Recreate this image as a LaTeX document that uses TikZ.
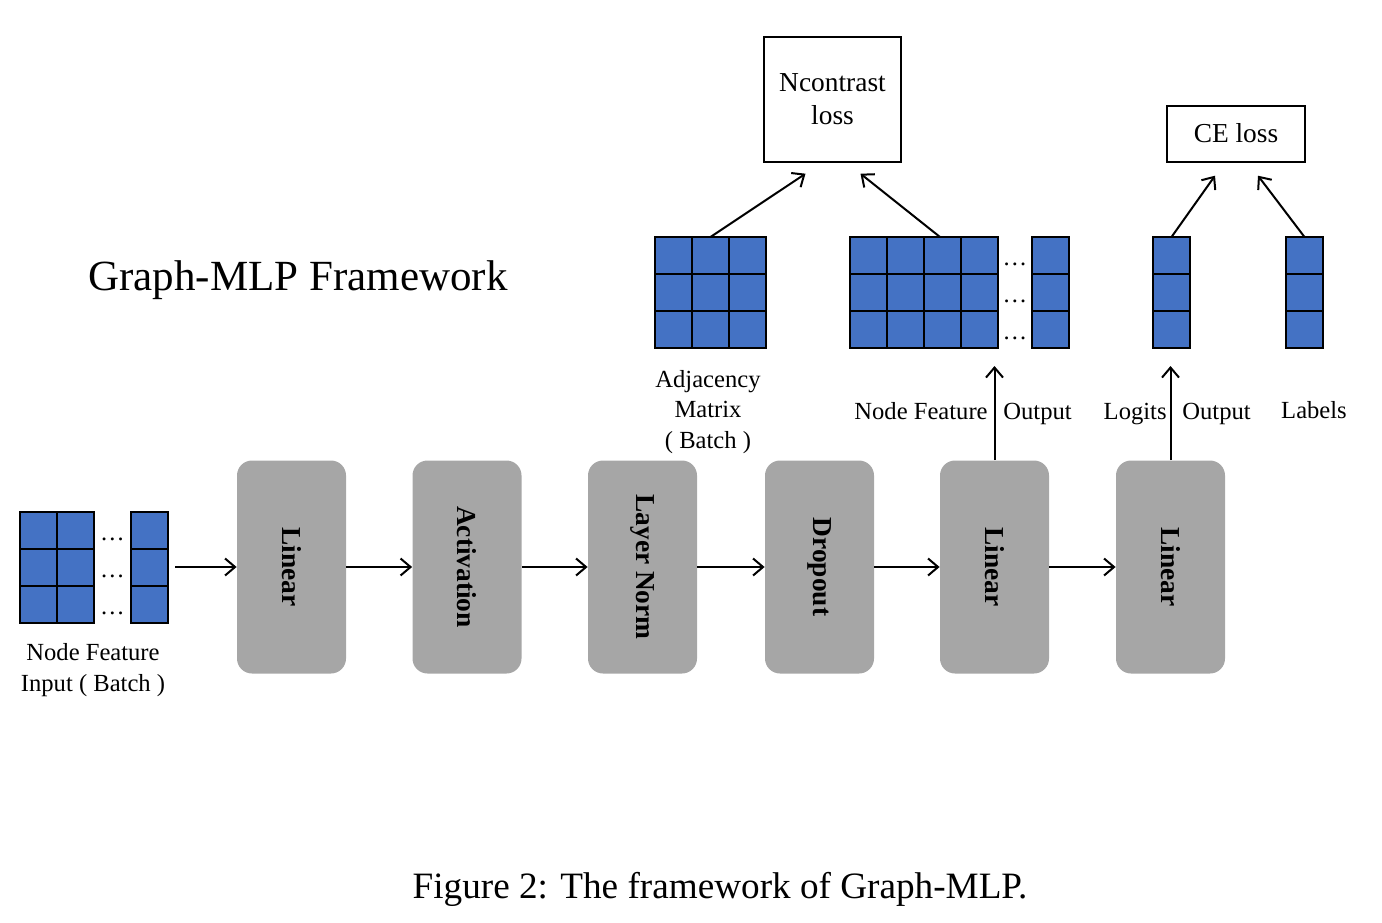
\documentclass[tikz,border=0pt]{standalone}
\usepackage{fontspec}
\setmainfont{Liberation Serif}
\usepackage{graphicx}
\usetikzlibrary{arrows.meta,calc,positioning}
\definecolor{cellblue}{HTML}{4472C4}
\definecolor{blockgray}{HTML}{A6A6A6}
\newcommand{\cs}{37}
\newcommand{\blocky}{567}
\newcommand{\vtext}[1]{\rotatebox{-90}{#1}}
% name, left, top, cols, rows
\newcommand{\matgrid}[5]{%
\node[mat, minimum width=#4*18.5pt, minimum height=#5*18.5pt, anchor=north west] (#1) at (#2,#3) {};
\foreach \i in {0,...,#4} \draw[gridline] ($(#1.north west)+(\i*\cs,0)$) -- ($(#1.south west)+(\i*\cs,0)$);
\foreach \j in {0,...,#5} \draw[gridline] ($(#1.north west)+(0,\j*\cs)$) -- ($(#1.north east)+(0,\j*\cs)$);
}

\begin{document}
\begin{tikzpicture}[x=0.5pt,y=-0.5pt,
  mat/.style={fill=cellblue, draw=black, line width=0.9pt, inner sep=0pt, outer sep=0pt},
  gridline/.style={draw=black, line width=0.9pt},
  block/.style={fill=blockgray, rounded corners=7.5pt, minimum width=54.5pt, minimum height=106.5pt, inner sep=0pt,
    font=\fontsize{13.7}{16}\selectfont\bfseries},
  lossbox/.style={draw=black, line width=0.7pt, align=center, inner sep=0pt,
    font=\fontsize{13.7}{16.5}\selectfont},
  lbl/.style={font=\fontsize{12.3}{15.3}\selectfont, inner sep=0pt, align=center},
  dots/.style={font=\fontsize{12.3}{15}\selectfont, inner sep=0pt, anchor=base},
  flow/.style={-{Straight Barb[length=5pt,width=8.5pt]}, line width=1pt}]
\useasboundingbox (0,0) rectangle (1382,922);

% title and caption
\node[font=\fontsize{21.5}{24}\selectfont, inner sep=0pt] (title) at (298,280) {Graph-MLP Framework};
\node[font=\fontsize{18.6}{22}\selectfont, inner sep=0pt] (caption) at (720,889) {Figure 2: The framework of Graph-MLP.};

% input batch
\matgrid{inmat}{20}{512}{2}{3}
\matgrid{inlast}{131}{512}{1}{3}
\foreach \r in {1,2,3} \node[dots] (indots\r) at (112.5,512+\r*36.7-8) {\dots};
\node[lbl] (inlbl) at (93,670) {Node Feature\\Input ( Batch )};

% layers
\node[block] (lin1) at (291.5,\blocky) {\vtext{Linear}};
\node[block] (act) at (467,\blocky) {\vtext{Activation}};
\node[block] (norm) at (642.5,\blocky) {\vtext{Layer Norm}};
\node[block] (drop) at (819.5,\blocky) {\vtext{Dropout}};
\node[block] (lin2) at (994.5,\blocky) {\vtext{Linear}};
\node[block] (lin3) at (1170.5,\blocky) {\vtext{Linear}};

\draw[flow, shorten <=3.5pt] (inlast.east |- lin1.west) -- (lin1.west);
\draw[flow] (lin1) -- (act);
\draw[flow] (act) -- (norm);
\draw[flow] (norm) -- (drop);
\draw[flow] (drop) -- (lin2);
\draw[flow] (lin2) -- (lin3);

% outputs
\matgrid{adj}{655}{237}{3}{3}
\node[lbl] (adjlbl) at (708,412) {Adjacency\\Matrix\\( Batch )};

\matgrid{nfo}{850}{237}{4}{3}
\matgrid{nfolast}{1032}{237}{1}{3}
\foreach \r in {1,2,3} \node[dots] (nfodots\r) at (1015,237+\r*36.7-8) {\dots};

\matgrid{logits}{1153}{237}{1}{3}
\matgrid{labels}{1286}{237}{1}{3}

\coordinate (nfoin) at ($(nfo.south east)+(-3,18)$);
\coordinate (login) at ($(logits.south)+(0,18)$);
\draw[flow] (lin2.north) -- (lin2.north |- nfoin);
\draw[flow] (lin3.north) -- (lin3.north |- login);

\node[lbl, anchor=base east] (nfolbl) at (988,419) {Node Feature};
\node[lbl, anchor=base west] (nfoout) at (1003,419) {Output};
\node[lbl, anchor=base east] (loglbl) at (1167,419) {Logits};
\node[lbl, anchor=base west] (logout) at (1182,419) {Output};
\node[lbl, anchor=base] (lablbl) at (1314,418) {Labels};

% losses
\node[lossbox, minimum width=68.5pt, minimum height=62.5pt] (ncl) at (832.5,99.5) {Ncontrast\\loss};
\node[lossbox, minimum width=69pt, minimum height=28pt, text depth=1.5pt] (cel) at (1236,134) {CE loss};

\coordinate (nclA) at ($(ncl.south)+(-27,11)$);
\coordinate (nclB) at ($(ncl.south)+(28,11)$);
\coordinate (celA) at ($(cel.south)+(-21,13)$);
\coordinate (celB) at ($(cel.south)+(22,13)$);
\draw[flow] (adj.north) -- (nclA);
\draw[flow] ($(nfo.north west)+(90,0)$) -- (nclB);
\draw[flow] (logits.north) -- (celA);
\draw[flow] (labels.north) -- (celB);
\end{tikzpicture}
\end{document}
